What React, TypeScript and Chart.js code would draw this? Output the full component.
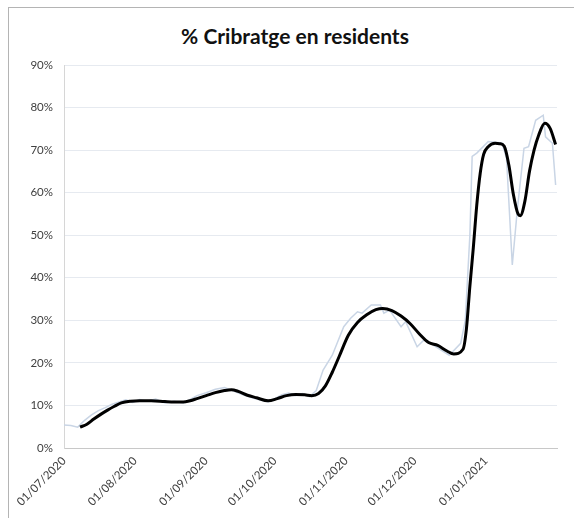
import React, { useEffect, useRef } from "react";
import { Chart, registerables } from "chart.js";

Chart.register(...registerables);

const titleText = "% Cribratge en residents";

const monthTickDays = [0, 31, 62, 92, 123, 153, 184];
const monthTickLabels = [
  "01/07/2020",
  "01/08/2020",
  "01/09/2020",
  "01/10/2020",
  "01/11/2020",
  "01/12/2020",
  "01/01/2021",
];

const yTickValues = [0, 10, 20, 30, 40, 50, 60, 70, 80, 90];

// Daily screening % (light line), day offset from 01/07/2020
const dailyDays = [
  0, 3, 6, 9, 12, 15, 18, 21, 24, 27, 30, 33, 36, 40, 44, 48, 52, 55, 58, 62,
  66, 70, 74, 78, 82, 86, 89, 92, 95, 98, 101, 104, 107, 110, 113, 117, 122,
  125, 128, 130, 134, 138, 139.5, 142, 147, 149, 154, 157, 161, 168, 173, 175,
  177, 178, 180, 185, 191, 193, 195.5, 197.7, 200.6, 202.6, 205.7, 209, 210,
  213, 214.4,
];
const dailyValues = [
  5.4, 5.3, 4.9, 6.5, 7.8, 8.8, 9.5, 10.3, 10.8, 11.3, 10.7, 11.4, 11.0, 11.5,
  10.6, 11.0, 10.6, 11.4, 12.3, 13.0, 13.8, 14.2, 13.4, 12.5, 11.8, 11.2, 10.8,
  11.6, 12.5, 12.9, 12.3, 12.8, 12.1, 13.5, 18.3, 21.8, 28.5, 30.5, 32.0, 31.7,
  33.6, 33.6, 31.7, 32.4, 28.5, 29.7, 23.8, 25.4, 24.2, 21.8, 24.6, 30.0, 50.0,
  68.5, 69.3, 72.0, 71.7, 68.0, 43.0, 56.0, 70.4, 70.8, 77.0, 78.2, 73.1, 71.6,
  61.8,
];

// 7-day moving average (black line)
const avgDays = [
  7, 10, 13, 16, 19, 22, 25, 29, 33, 38, 44, 48, 52, 55, 58, 62, 66, 70, 73,
  76, 80, 84, 89, 93, 97, 101, 105, 108, 111, 114, 117, 120, 124, 128, 132,
  136, 139, 143, 147, 151, 155, 159, 163, 167, 170, 174, 175.5, 177, 178.5,
  180, 181.5, 183, 185, 188, 190, 192, 194, 196, 198, 199, 201, 203, 205, 207,
  209.7, 212, 214.4,
];
const avgValues = [
  4.9, 5.6, 6.8, 7.9, 8.9, 9.8, 10.6, 11.0, 11.1, 11.1, 10.9, 10.8, 10.8,
  11.1, 11.6, 12.3, 13.0, 13.5, 13.7, 13.3, 12.4, 11.8, 11.1, 11.6, 12.3,
  12.6, 12.5, 12.3, 12.8, 14.6, 17.8, 21.5, 26.5, 29.5, 31.3, 32.5, 32.8,
  32.3, 31.0, 29.2, 26.8, 24.8, 24.1, 22.8, 22.1, 23.2, 28.0, 38.0, 47.0,
  57.0, 64.5, 69.0, 70.8, 71.6, 71.5, 70.9, 66.5, 59.5, 55.0, 54.6, 58.0,
  65.0, 70.0, 73.5, 76.3, 75.1, 71.3,
];

const FONT = "Lato, 'Open Sans', 'DejaVu Sans', sans-serif";

export default function App() {
  const canvasRef = useRef<HTMLCanvasElement | null>(null);

  useEffect(() => {
    const canvas = canvasRef.current;
    if (!canvas) return;
    const chart = new Chart(canvas, {
      type: "line",
      data: {
        datasets: [
          {
            label: "Mitjana 7 dies",
            data: avgDays.map((d, i) => ({ x: d, y: avgValues[i] })),
            borderColor: "#000000",
            borderWidth: 3,
            pointRadius: 0,
            cubicInterpolationMode: "monotone",
            fill: false,
          },
          {
            label: "% Cribratge",
            data: dailyDays.map((d, i) => ({ x: d, y: dailyValues[i] })),
            borderColor: "#c9d5e5",
            borderWidth: 1.5,
            pointRadius: 0,
            tension: 0,
            fill: false,
          },
        ],
      },
      options: {
        responsive: false,
        animation: false,
        layout: { padding: { left: 8, right: 17, top: 65, bottom: 0 } },
        plugins: {
          legend: { display: false },
          tooltip: { enabled: false },
          title: { display: false },
        },
        scales: {
          x: {
            type: "linear",
            min: 0,
            max: 215,
            afterBuildTicks: (scale: any) => {
              scale.ticks = monthTickDays.map((v) => ({ value: v }));
            },
            afterFit: (scale: any) => {
              scale.height = 70;
            },
            grid: { display: false, drawTicks: false, tickLength: 0 },
            border: { display: true, color: "#c8c8c8", width: 1 },
            ticks: {
              autoSkip: false,
              maxRotation: 45,
              minRotation: 45,
              padding: 6,
              color: "#404040",
              font: { family: FONT, size: 11.5 },
              callback: (value: any) => {
                const i = monthTickDays.indexOf(Number(value));
                return i >= 0 ? monthTickLabels[i] : "";
              },
            },
          },
          y: {
            min: 0,
            max: 90,
            afterBuildTicks: (scale: any) => {
              scale.ticks = yTickValues.map((v) => ({ value: v }));
            },
            afterFit: (scale: any) => {
              scale.width = 56;
            },
            grid: { color: "#e6eaf0", drawTicks: false, tickLength: 0 },
            border: { display: true, color: "#d6d6d6", width: 1 },
            ticks: {
              padding: 11,
              color: "#404040",
              font: { family: FONT, size: 11.5 },
              callback: (value: any) => `${value}%`,
            },
          },
        },
      },
    });
    return () => chart.destroy();
  }, []);

  return (
    <div
      style={{
        position: "fixed",
        left: 0,
        top: 0,
        width: 574,
        height: 518,
        background: "#ffffff",
        overflow: "hidden",
      }}
    >
      <div
        style={{
          position: "absolute",
          left: 8,
          top: 7,
          width: 620,
          height: 560,
          border: "1px solid #b4b4b4",
          boxSizing: "border-box",
        }}
      />
      <div
        style={{
          position: "absolute",
          left: 0,
          top: 22,
          width: 590,
          textAlign: "center",
          fontFamily: FONT,
          fontWeight: 700,
          fontSize: 21,
          color: "#111111",
          lineHeight: "28px",
        }}
      >
        {titleText}
      </div>
      <canvas
        ref={canvasRef}
        width={574}
        height={518}
        style={{ position: "absolute", left: 0, top: 0, width: 574, height: 518 }}
      />
    </div>
  );
}
